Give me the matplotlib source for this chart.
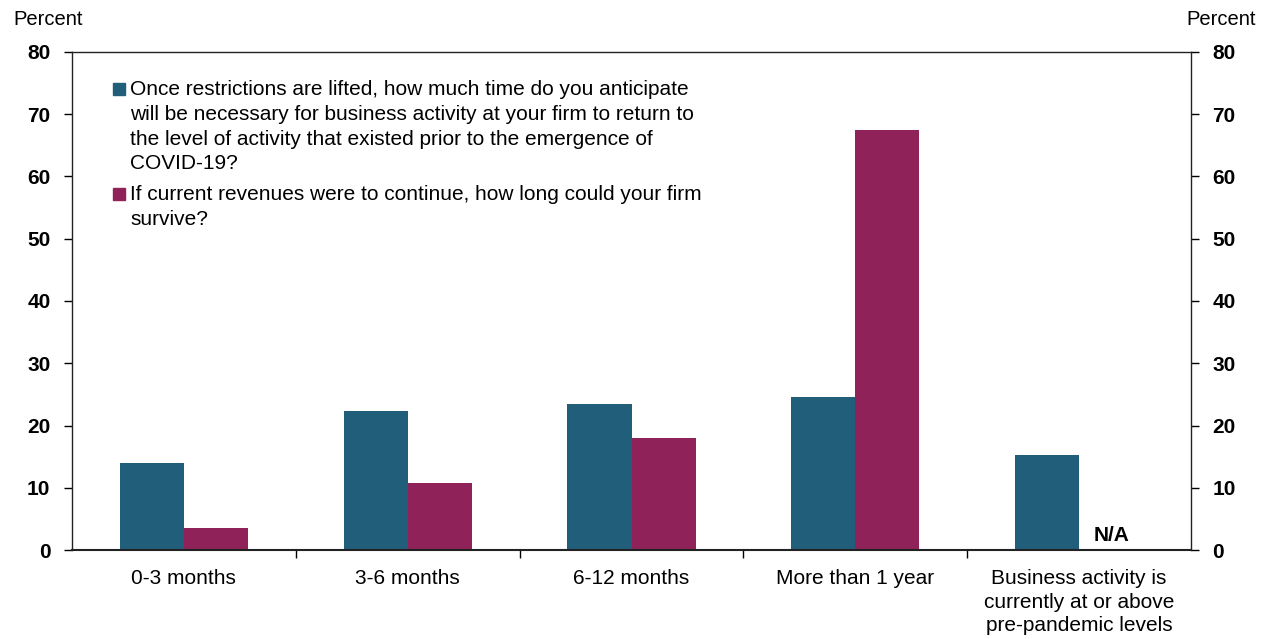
import matplotlib
matplotlib.use("Agg")
import matplotlib.pyplot as plt
import numpy as np
from matplotlib.patches import Rectangle

categories = ["0-3 months", "3-6 months", "6-12 months", "More than 1 year",
              "Business activity is\ncurrently at or above\npre-pandemic levels"]
recovery = [14.0, 22.3, 23.5, 24.6, 15.3]
survival = [3.5, 10.8, 18.0, 67.5, np.nan]
series_labels = [
    "Once restrictions are lifted, how much time do you anticipate\nwill be necessary for business activity at your firm to return to\nthe level of activity that existed prior to the emergence of\nCOVID-19?",
    "If current revenues were to continue, how long could your firm\nsurvive?",
]
yticks = [0, 10, 20, 30, 40, 50, 60, 70, 80]

blue = "#215e7a"
magenta = "#8f2259"
colors = [blue, magenta]

plt.rcParams['font.family'] = ['Liberation Sans', 'DejaVu Sans']

W, H = 1268, 639
fig = plt.figure(figsize=(W/100, H/100), dpi=100)
ax = fig.add_axes([72/W, 1-550/H, (1191-72)/W, (550-52)/H])

x = np.arange(len(categories))
w = 0.286
ax.bar(x - w/2, recovery, width=w, color=blue)
ax.bar(x + w/2, survival, width=w, color=magenta)
ax.text(x[-1] + w/2, 1.45, "N/A", ha="center", va="baseline", fontsize=15, fontweight="bold")

ax.set_xlim(-0.5, len(categories) - 0.5)
ax.set_ylim(0, 80)
ax.set_yticks(yticks)
ax.tick_params(axis='y', direction='out', length=6, width=1, labelsize=15, pad=9.5,
               left=True, right=True, labelleft=True, labelright=True)
for lab in ax.get_yticklabels():
    lab.set_fontweight('bold')
ax.set_xticks(x)
ax.set_xticklabels(categories, fontsize=15, linespacing=1.3)
ax.tick_params(axis='x', which='major', length=0, pad=14)
ax.set_xticks(np.arange(0.5, len(categories) - 0.5, 1), minor=True)
ax.tick_params(axis='x', which='minor', length=6, width=1, direction='out')
for s in ax.spines.values():
    s.set_linewidth(1)
    s.set_color("#222222")
ax.spines['bottom'].set_linewidth(1.5)

fig.text(13/W, 1-25/H, "Percent", fontsize=14.5, va="baseline", ha="left")
fig.text(1256/W, 1-25/H, "Percent", fontsize=14.5, va="baseline", ha="right")

# Legend drawn manually: square aligned with first line of each entry
base = 95.0
pitch = 24.8
gap = 31.0
for lbl, col in zip(series_labels, colors):
    fig.patches.append(Rectangle((113/W, 1-(base)/H), 12/W, 12/H,
                                 transform=fig.transFigure, color=col))
    lines = lbl.split("\n")
    for i, ln in enumerate(lines):
        fig.text(130/W, 1-(base + i*pitch)/H, ln, fontsize=15, va="baseline", ha="left")
    base = base + (len(lines)-1)*pitch + gap

fig.savefig("out.png", dpi=100)
